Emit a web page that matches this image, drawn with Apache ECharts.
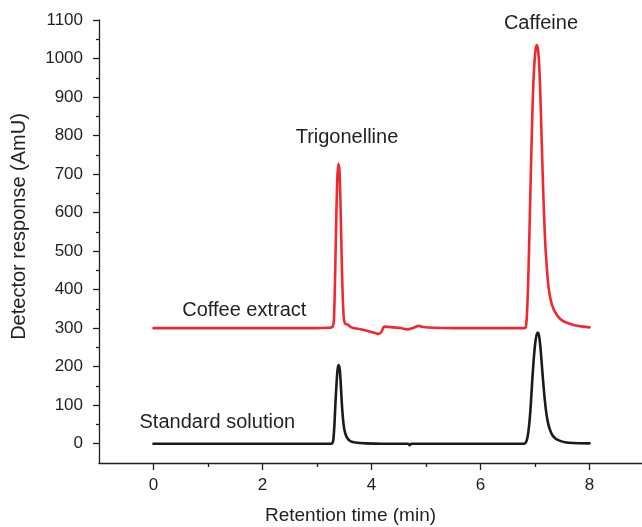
<!DOCTYPE html>
<html>
<head>
<meta charset="utf-8">
<script src="https://cdn.jsdelivr.net/npm/echarts@6/dist/echarts.min.js"></script>
<style>
html,body{margin:0;padding:0;background:#fff;}
#chart{width:642px;height:527px;}
</style>
</head>
<body>
<div id="chart"></div>
<script>
// Coffee extract (red)
var coffeeTime = [0, 0.5, 1, 1.5, 2, 2.5, 3, 3.2, 3.26, 3.29, 3.31, 3.33, 3.35, 3.37, 3.39, 3.41, 3.43, 3.45, 3.47, 3.49, 3.51, 3.54, 3.57, 3.60, 3.65, 3.8, 3.98, 4.08, 4.13, 4.18, 4.22, 4.26, 4.4, 4.55, 4.65, 4.75, 4.87, 4.95, 5.14, 5.5, 6.0, 6.5, 6.80, 6.83, 6.85, 6.87, 6.89, 6.91, 6.93, 6.95, 6.97, 6.99, 7.01, 7.03, 7.05, 7.07, 7.09, 7.11, 7.13, 7.15, 7.17, 7.19, 7.22, 7.25, 7.29, 7.34, 7.40, 7.47, 7.55, 7.65, 7.75, 7.88, 8.0];
var coffeeValue = [300, 300, 300, 300, 300, 300, 300, 301, 302, 305, 320, 420, 560, 680, 727, 715, 630, 500, 390, 330, 313, 310, 309, 305, 301, 297, 291, 287, 285, 290, 302, 304, 302, 300, 297, 300, 306, 303, 301, 300, 300, 300, 300, 302, 330, 400, 500, 620, 740, 850, 935, 990, 1022, 1035, 1028, 1000, 940, 850, 750, 660, 580, 515, 450, 405, 372, 350, 335, 323, 316, 311, 307, 304, 302];
// Standard solution (black)
var standardTime = [0, 1, 2, 3, 3.25, 3.28, 3.30, 3.32, 3.34, 3.36, 3.38, 3.40, 3.42, 3.44, 3.46, 3.48, 3.50, 3.53, 3.57, 3.62, 3.7, 3.9, 4.2, 4.6, 4.67, 4.70, 4.73, 5.0, 6.0, 6.80, 6.83, 6.86, 6.89, 6.92, 6.95, 6.98, 7.01, 7.04, 7.06, 7.08, 7.10, 7.12, 7.14, 7.17, 7.20, 7.23, 7.27, 7.32, 7.38, 7.45, 7.55, 7.7, 8.0];
var standardValue = [0, 0, 0, 0, 0, 1, 10, 50, 110, 160, 195, 204, 190, 145, 95, 60, 38, 22, 12, 6, 3, 1, 0, 0, 0, -4, 0, 0, 0, 0, 3, 15, 45, 95, 165, 225, 268, 287, 288, 275, 250, 215, 178, 128, 88, 60, 38, 22, 13, 8, 4, 2, 1];
// Axes
var xMajorTicks = [0, 2, 4, 6, 8];
var xMinorTicks = [1, 3, 5, 7];
var yMajorTicks = [0, 100, 200, 300, 400, 500, 600, 700, 800, 900, 1000, 1100];
var yMinorTicks = [50, 150, 250, 350, 450, 550, 650, 750, 850, 950, 1050];
// Annotations [label, x, y]
var annCoffee = ['Coffee extract', 0.527, 347];
var annStandard = ['Standard solution', -0.257, 54];
var annTrig = ['Trigonelline', 3.55, 795];
var annCaff = ['Caffeine', 7.11, 1092];

function zip(a, b) { return a.map(function (v, i) { return [v, b[i]]; }); }

var ink = '#231f20';
var FONT = 'Liberation Sans';

function annLeft(a) {
  return { coord: [a[1], a[2]], value: a[0], symbolSize: 0,
    label: { show: true, formatter: a[0], position: 'right', distance: 0, color: ink, fontSize: 20, fontFamily: FONT } };
}
function annCenter(a) {
  return { coord: [a[1], a[2]], value: a[0], symbolSize: 0,
    label: { show: true, formatter: a[0], position: 'inside', color: ink, fontSize: 20, fontFamily: FONT } };
}
function plain(v) { return String(v); }

var chart = echarts.init(document.getElementById('chart'), null, { renderer: 'canvas' });
chart.setOption({
  animation: false,
  backgroundColor: '#fff',
  grid: { left: 99, top: 20, width: 545, height: 443, containLabel: false, outerBoundsMode: 'none' },
  xAxis: [
    { type: 'value', min: -1, max: 9, position: 'bottom',
      axisLine: { show: true, onZero: false, lineStyle: { color: ink, width: 1.3 } },
      axisTick: { show: true, customValues: xMajorTicks, length: 7, lineStyle: { color: ink, width: 1.3 } },
      axisLabel: { show: true, customValues: xMajorTicks, formatter: plain, margin: 14, color: ink, fontSize: 17, fontFamily: FONT },
      splitLine: { show: false },
      name: 'Retention time (min)', nameLocation: 'middle', nameGap: 43,
      nameTextStyle: { color: ink, fontSize: 19, fontFamily: FONT, padding: [0, 42, 0, 0] } },
    { type: 'value', min: -1, max: 9, position: 'bottom',
      axisLine: { show: false, onZero: false },
      axisTick: { show: true, customValues: xMinorTicks, length: 4, lineStyle: { color: ink, width: 1.3 } },
      axisLabel: { show: false },
      splitLine: { show: false } }
  ],
  yAxis: [
    { type: 'value', min: -50, max: 1100, position: 'left',
      axisLine: { show: true, onZero: false, lineStyle: { color: ink, width: 1.3 } },
      axisTick: { show: true, customValues: yMajorTicks, length: 6, lineStyle: { color: ink, width: 1.3 } },
      axisLabel: { show: true, customValues: yMajorTicks, formatter: plain, margin: 16, color: ink, fontSize: 17, fontFamily: FONT },
      splitLine: { show: false },
      name: 'Detector response (AmU)', nameLocation: 'middle', nameGap: 70, nameRotate: 90,
      nameTextStyle: { color: ink, fontSize: 20, fontFamily: FONT, padding: [0, 0, 0, 30] } },
    { type: 'value', min: -50, max: 1100, position: 'left',
      axisLine: { show: false, onZero: false },
      axisTick: { show: true, customValues: yMinorTicks, length: 3, lineStyle: { color: ink, width: 1.3 } },
      axisLabel: { show: false },
      splitLine: { show: false } }
  ],
  series: [
    { name: 'Coffee extract', type: 'line', xAxisIndex: 0, yAxisIndex: 0,
      data: zip(coffeeTime, coffeeValue), showSymbol: false, symbol: 'none',
      smooth: 0.25,
      lineStyle: { color: '#ee2a30', width: 2.6, cap: 'round', join: 'round' },
      markPoint: { symbol: 'circle', symbolSize: 0, silent: true,
        data: [annLeft(annCoffee), annCenter(annTrig), annCenter(annCaff)] } },
    { name: 'Standard solution', type: 'line', xAxisIndex: 0, yAxisIndex: 0,
      data: zip(standardTime, standardValue), showSymbol: false, symbol: 'none',
      smooth: 0.25,
      lineStyle: { color: '#1c1a1a', width: 2.6, cap: 'round', join: 'round' },
      markPoint: { symbol: 'circle', symbolSize: 0, silent: true,
        data: [annLeft(annStandard)] } }
  ]
});
</script>
</body>
</html>
